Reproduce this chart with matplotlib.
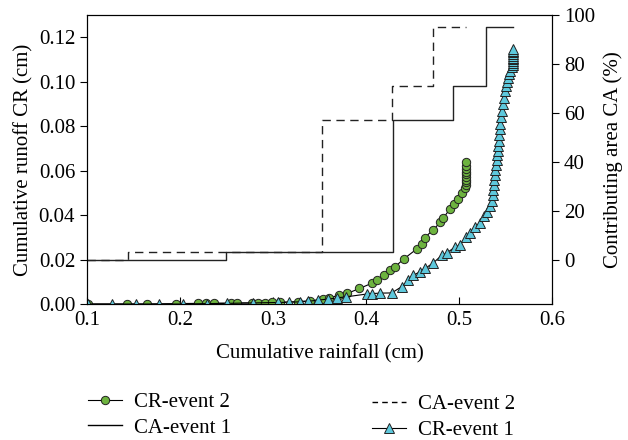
import numpy as np
import matplotlib
matplotlib.use('Agg')
import matplotlib.pyplot as plt
from matplotlib.lines import Line2D

plt.rcParams['font.family'] = ['Liberation Serif', 'DejaVu Serif']
plt.rcParams['font.size'] = 15

# CR-event 2 (green circles), cumulative rainfall vs cumulative runoff
cr2_x = [0.101, 0.143, 0.165, 0.196, 0.219, 0.228, 0.237, 0.255, 0.261, 0.277, 0.284,
         0.291, 0.299, 0.307, 0.327, 0.340, 0.354, 0.360, 0.371, 0.380, 0.393, 0.406,
         0.412, 0.419, 0.426, 0.431, 0.441, 0.455, 0.460, 0.463, 0.472, 0.480, 0.483,
         0.490, 0.495, 0.499, 0.503, 0.5065, 0.507, 0.507, 0.507, 0.507, 0.507, 0.507,
         0.507, 0.507, 0.507]
cr2_y = [0.0, 0.0, 0.0, 0.0002, 0.0003, 0.0003, 0.0004, 0.0004, 0.0005, 0.0005, 0.0006,
         0.0006, 0.0007, 0.0008, 0.0011, 0.0015, 0.0021, 0.0027, 0.0040, 0.0048, 0.0070,
         0.0093, 0.0107, 0.0130, 0.0153, 0.0167, 0.0204, 0.0249, 0.0271, 0.0298, 0.0333,
         0.0368, 0.0386, 0.0426, 0.0450, 0.0473, 0.0500, 0.0520, 0.0535, 0.0548, 0.0560,
         0.0572, 0.0584, 0.0596, 0.0608, 0.0622, 0.0637]

# CR-event 1 (cyan triangles)
cr1_x = [0.1014, 0.1265, 0.1527, 0.1774, 0.2036, 0.2287, 0.2502, 0.2788, 0.3057, 0.3175,
         0.329, 0.338, 0.3487, 0.3595, 0.369, 0.378, 0.4007, 0.4061, 0.415, 0.4276, 0.4384,
         0.4455, 0.451, 0.458, 0.4634, 0.4724, 0.4814, 0.4868, 0.4957, 0.5011, 0.5075,
         0.5118, 0.5172, 0.5226, 0.5269, 0.5298, 0.5333, 0.5355, 0.5362, 0.5368, 0.5374,
         0.5380, 0.5386, 0.5392, 0.5398, 0.5404, 0.5410, 0.5416, 0.5422, 0.5428, 0.5434,
         0.5438, 0.5443, 0.5452, 0.5462, 0.5473, 0.5484, 0.5496, 0.5506, 0.5516, 0.5528,
         0.5540, 0.5552, 0.5565, 0.5578, 0.5584, 0.5584, 0.5584, 0.5584, 0.5584, 0.5584,
         0.5584, 0.5584, 0.5584]
cr1_y = [0.0, 0.0, 0.0, 0.0, 0.0, 0.0002, 0.0003, 0.0005, 0.0007, 0.0008,
         0.0010, 0.0012, 0.0018, 0.0022, 0.0028, 0.0032, 0.0045, 0.0047, 0.0049, 0.0050,
         0.0078, 0.0107, 0.0130, 0.0145, 0.0160, 0.0185, 0.0219, 0.0230, 0.0256, 0.0266,
         0.0301, 0.0320, 0.0346, 0.0365, 0.0395, 0.0415, 0.0440, 0.0465, 0.0490, 0.0512,
         0.0535, 0.0558, 0.0580, 0.0602, 0.0624, 0.0646, 0.0668, 0.0690, 0.0712, 0.0735,
         0.0760, 0.0785, 0.0810, 0.0840, 0.0870, 0.0898, 0.0927, 0.0957, 0.0980, 0.1000,
         0.1018, 0.1035, 0.1050, 0.1064, 0.1076, 0.1084, 0.1092, 0.1100, 0.1108, 0.1116,
         0.1124, 0.1132, 0.1139, 0.1146]

# Contributing area step curves (%)
ca1_x = [0.1, 0.249, 0.249, 0.429, 0.429, 0.494, 0.494, 0.529, 0.529, 0.558]
ca1_y = [0, 0, 3, 3, 57, 57, 71, 71, 95, 95]
ca2_x = [0.1, 0.144, 0.144, 0.353, 0.353, 0.428, 0.428, 0.472, 0.472, 0.508]
ca2_y = [0, 0, 3, 3, 57, 57, 71, 71, 95, 95]

green = '#6db33f'
cyan = '#5ec8dc'

fig = plt.figure(figsize=(6.28, 4.40), dpi=100)
ax = fig.add_axes([0.1385, 0.309, 0.7405, 0.657])
ax2 = ax.twinx()

ax2.plot(ca1_x, ca1_y, color='#222222', lw=1.0)
ax2.plot(ca2_x, ca2_y, color='#222222', lw=1.0, ls=(0, (6, 4)))

ax.plot(cr2_x, cr2_y, color='black', lw=0.8, marker='o', ms=6, mfc=green, mec='#222222', mew=0.7)
ax.plot(cr1_x, cr1_y, color='black', lw=0.8, marker='^', ms=7, mfc=cyan, mec='#222222', mew=0.7)

ax.set_zorder(ax2.get_zorder() + 1)
ax.patch.set_visible(False)

ax.set_xlim(0.1, 0.6)
ax.set_ylim(0, 0.13)
ax2.set_ylim(-18.18, 100)
ax.set_xticks(np.arange(0.1, 0.61, 0.1))
ax.set_xticklabels(['0.1', '0.2', '0.3', '0.4', '0.5', '0.6'])
ax.set_yticks(np.arange(0, 0.121, 0.02))
ax.set_yticklabels(['%.2f' % v for v in np.arange(0, 0.121, 0.02)])
ax2.set_yticks([0, 20, 40, 60, 80, 100])

ax.tick_params(axis='x', direction='in', length=5, width=0.8, pad=5)
ax.tick_params(axis='y', direction='out', length=5, width=0.8)
ax2.tick_params(axis='y', direction='out', length=5, width=0.8)

ax.set_xlabel('Cumulative rainfall (cm)', labelpad=10)
ax.set_ylabel('Cumulative runoff CR (cm)', labelpad=4)
ax2.set_ylabel('Contributing area CA (%)', labelpad=6)

h_cr2 = Line2D([], [], color='black', lw=0.8, marker='o', ms=6, mfc=green, mec='#222222', mew=0.7)
h_ca1 = Line2D([], [], color='black', lw=1.0)
h_ca2 = Line2D([], [], color='black', lw=1.0, ls=(0, (4, 3)))
h_cr1 = Line2D([], [], color='black', lw=0.8, marker='^', ms=7, mfc=cyan, mec='#222222', mew=0.7)

leg1 = fig.legend([h_cr2, h_ca1], ['CR-event 2', 'CA-event 1'], loc='center left',
                  bbox_to_anchor=(0.14, 0.057), frameon=False, borderpad=0, borderaxespad=0,
                  handlelength=1.65, handletextpad=0.55, labelspacing=0.3)
leg2 = fig.legend([h_ca2, h_cr1], ['CA-event 2', 'CR-event 1'], loc='center left',
                  bbox_to_anchor=(0.592, 0.052), frameon=False, borderpad=0, borderaxespad=0,
                  handlelength=1.65, handletextpad=0.55, labelspacing=0.3)

fig.savefig('out.png', dpi=100)
